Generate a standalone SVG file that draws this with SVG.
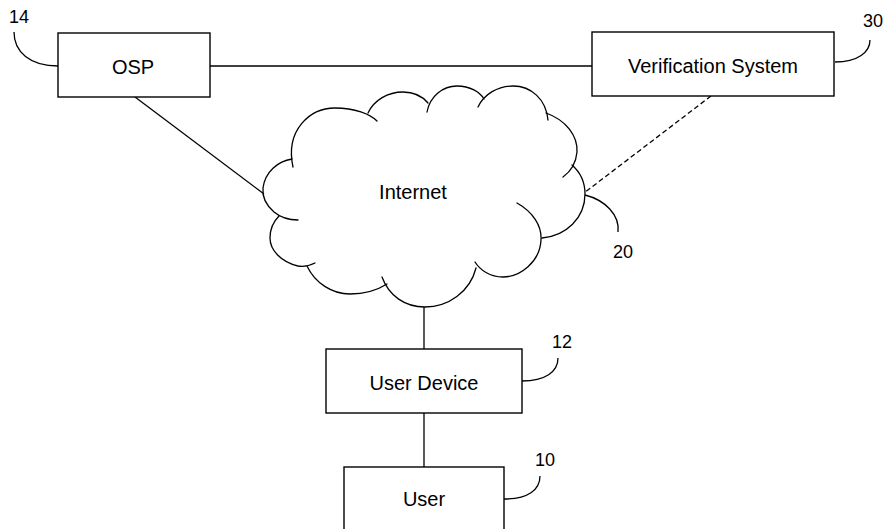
<svg xmlns="http://www.w3.org/2000/svg" width="886" height="529" viewBox="0 0 886 529">
  <style>
    .box { fill: #fff; stroke: #000; stroke-width: 1.4; }
    .wire { fill: none; stroke: #000; stroke-width: 1.3; }
    .dash { stroke-dasharray: 5 3; }
    .lobe { fill: none; stroke: #000; stroke-width: 1.3; stroke-linecap: round; }
    .lbl { font-family: "Liberation Sans", Arial, sans-serif; font-size: 20px; fill: #000; text-anchor: middle; }
    .ref { font-family: "Liberation Sans", Arial, sans-serif; font-size: 18px; fill: #000; text-anchor: middle; }
  </style>
  <rect width="886" height="529" fill="#fff"/>

  <g id="connectors">
    <line class="wire" x1="210" y1="66" x2="592" y2="66"/>
    <line class="wire" x1="135" y1="97" x2="264" y2="194"/>
    <line class="wire dash" x1="711" y1="96" x2="584" y2="193"/>
    <line class="wire" x1="424" y1="307" x2="424" y2="349"/>
    <line class="wire" x1="424" y1="413" x2="424" y2="467"/>
  </g>

  <g id="internet">
    <!-- cloud outline: one arc per lobe, with short overlapping tails -->
    <path class="lobe" d="M 293,167 C 285,130 310,108 335,108 C 355,108 370,114 377,121"/>
    <path class="lobe" d="M 368,113 C 374,100 388,92 403,92 C 414,92 423,97 428,103"/>
    <path class="lobe" d="M 427,112 C 430,96 443,86 457,86 C 470,86 480,92 484,99"/>
    <path class="lobe" d="M 478,107 C 484,94 498,86 513,86 C 531,86 546,99 548,120"/>
    <path class="lobe" d="M 546,113 C 566,120 578,136 577,152 C 576,163 570,172 563,177"/>
    <path class="lobe" d="M 572,165 C 580,172 585,182 585,194 C 585,218 566,236 542,238"/>
    <path class="lobe" d="M 517,203 C 533,212 542,226 541,240 C 540,262 520,277 503,277 C 490,277 480,270 475,262"/>
    <path class="lobe" d="M 476,268 C 470,292 448,307 425,307 C 405,307 389,296 382,277"/>
    <path class="lobe" d="M 387,284 C 376,291 363,294 350,294 C 332,294 315,283 307,266"/>
    <path class="lobe" d="M 315,263 C 309,266 303,267 298,266 C 281,262 270,250 270,238 C 270,228 274,221 279,216"/>
    <path class="lobe" d="M 298,220 C 288,220 280,217 274,212 C 266,205 262,197 263,188 C 265,172 278,161 292,159"/>
    <text class="lbl" x="413" y="199">Internet</text>
    <path class="wire" d="M 585,195 C 605,200 620,215 618,232"/>
    <text class="ref" x="623" y="258">20</text>
  </g>

  <g id="osp">
    <rect class="box" x="58" y="33" width="152" height="64"/>
    <text class="lbl" x="133" y="74">OSP</text>
    <path class="wire" d="M 14,32 C 14,52 30,66 58,66"/>
    <text class="ref" x="19" y="23">14</text>
  </g>

  <g id="verification">
    <rect class="box" x="592" y="32" width="242" height="64"/>
    <text class="lbl" x="713" y="73">Verification System</text>
    <path class="wire" d="M 870,40 C 870,52 858,62 835,62"/>
    <text class="ref" x="873" y="27">30</text>
  </g>

  <g id="user-device">
    <rect class="box" x="326" y="349" width="196" height="64"/>
    <text class="lbl" x="424" y="390">User Device</text>
    <path class="wire" d="M 558,358 C 558,372 545,381 522,381"/>
    <text class="ref" x="562" y="348">12</text>
  </g>

  <g id="user">
    <rect class="box" x="344" y="467" width="160" height="80"/>
    <text class="lbl" x="424" y="506">User</text>
    <path class="wire" d="M 540,476 C 540,490 528,499 504,499"/>
    <text class="ref" x="545" y="466">10</text>
  </g>
</svg>
